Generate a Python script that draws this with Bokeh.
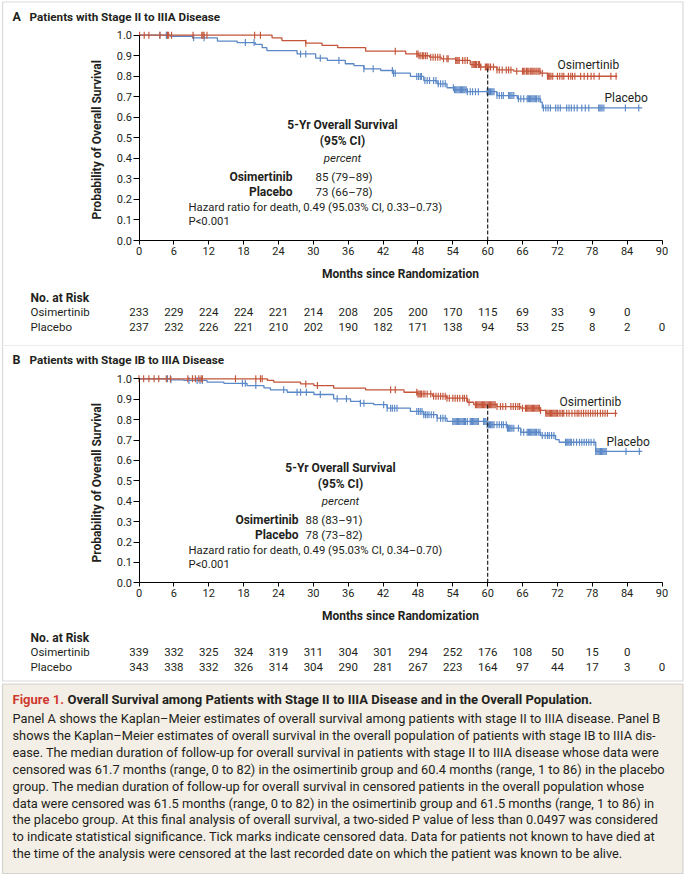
import numpy as np
from bokeh.plotting import figure
from bokeh.models import Range1d, Label, BoxAnnotation, FixedTicker, NumeralTickFormatter, LinearAxis
from bokeh.layouts import column
from bokeh.embed import file_html
from bokeh.resources import INLINE

FONT = "Roboto"
RED = "#C4553A"
BLUE = "#5B88C6"
INK = "#231F20"
EDGE = "#808080"
CAPTION_BG = "#F4EFE6"
FIG_RED = "#CF3A2F"

# ---------------- data ----------------
x_ticks = [0, 6, 12, 18, 24, 30, 36, 42, 48, 54, 60, 66, 72, 78, 84, 90]
y_ticks = [0.0, 0.1, 0.2, 0.3, 0.4, 0.5, 0.6, 0.7, 0.8, 0.9, 1.0]
risk_times_osi = [0, 6, 12, 18, 24, 30, 36, 42, 48, 54, 60, 66, 72, 78, 84]
risk_times_pbo = [0, 6, 12, 18, 24, 30, 36, 42, 48, 54, 60, 66, 72, 78, 84, 90]

# Panel A: stage II to IIIA
a_osi_t = [0, 22.9, 24.6, 28.7, 31.5, 34.2, 39.0, 45.9, 48.1, 50.0, 52.0, 54.5, 57.0, 58.8, 61.6, 64.5, 69.1, 70.3]
a_osi_s = [1.0, 0.987, 0.974, 0.961, 0.950, 0.939, 0.922, 0.909, 0.900, 0.893, 0.885, 0.877, 0.857, 0.845, 0.831, 0.825, 0.815, 0.800]
a_osi_end = 82.3
a_osi_cens = [0.1, 0.9, 1.7, 3.6, 4.9, 5.1, 5.6, 9.3, 10.8, 11.0, 11.2, 11.7, 19.9, 20.9, 28.7, 44.1,
              47.8, 48.0, 48.2, 48.5, 48.8, 49.0, 49.3, 49.6, 50.2, 50.6, 51.0, 51.4, 51.8, 52.4, 53.0, 53.2,
              54.5, 54.7, 54.9, 55.1, 55.7, 56.1, 56.5, 57.3, 57.5, 57.7, 57.9, 58.1, 58.4, 58.6, 58.8,
              59.6, 59.8, 60.0, 60.2, 60.5, 61.0, 61.6, 62.0, 62.5, 63.2, 63.6, 64.0, 65.0,
              66.0, 66.2, 66.4, 66.7, 66.9, 67.1, 67.4, 67.6, 67.8, 68.0, 68.3, 68.5, 68.8, 69.0, 69.4,
              70.3, 70.5, 70.7, 70.9, 71.2, 72.0, 72.4, 72.8, 73.1, 73.9, 74.3, 74.6, 75.0,
              76.0, 76.6, 77.2, 77.8, 78.3, 79.2, 81.2, 82.1]
a_pbo_t = [0, 5.4, 9.2, 13.5, 16.9, 20.0, 21.2, 22.0, 27.2, 30.4, 32.4, 35.5, 37.0, 38.7, 41.6, 43.8, 46.7,
           49.0, 51.3, 53.0, 54.2, 56.5, 61.6, 65.1, 69.1, 69.4]
a_pbo_s = [1.0, 0.995, 0.987, 0.971, 0.964, 0.955, 0.939, 0.925, 0.909, 0.888, 0.877, 0.861, 0.852, 0.836,
           0.828, 0.815, 0.799, 0.779, 0.763, 0.744, 0.734, 0.725, 0.706, 0.690, 0.674, 0.646]
a_pbo_end = 86.6
a_pbo_cens = [3.6, 4.7, 4.8, 9.4, 11.2, 18.3, 19.8, 27.8, 28.7, 31.2, 34.4, 38.7, 40.3, 43.6, 43.8, 44.1,
              47.8, 48.1, 48.4, 48.6, 49.2, 49.6, 50.0, 50.7, 51.1, 51.5, 51.9, 52.3, 52.7,
              54.1, 54.3, 54.5, 54.7, 54.9, 55.1, 55.3, 55.5, 55.7, 55.9, 56.1, 56.3, 56.5, 57.0, 57.4, 57.9, 58.4,
              59.9, 60.1, 60.3, 60.5, 60.7, 60.9, 61.1, 61.6, 62.0, 62.4, 62.7, 63.6, 63.8, 64.0, 64.2, 64.5,
              65.3, 65.7, 66.2, 66.8, 67.0, 67.2, 67.4, 67.6, 67.8, 68.0, 68.2, 68.4, 68.7, 69.0,
              69.6, 70.0, 70.4, 70.8, 71.7, 72.1, 72.5, 73.6, 74.0, 74.4, 74.9, 75.4, 76.2, 76.8, 77.4,
              79.1, 79.3, 79.5, 79.7, 80.0, 83.7, 86.0]
a_risk_osi = [233, 229, 224, 224, 221, 214, 208, 205, 200, 170, 115, 69, 33, 9, 0]
a_risk_pbo = [237, 232, 226, 221, 210, 202, 190, 182, 171, 138, 94, 53, 25, 8, 2, 0]

# Panel B: stage IB to IIIA (overall population)
b_osi_t = [0, 22.1, 23.2, 27.8, 30.1, 33.5, 39.0, 45.6, 47.9, 50.5, 53.0, 56.5, 57.6, 61.6, 65.7, 69.1, 70.0]
b_osi_s = [1.0, 0.992, 0.984, 0.975, 0.967, 0.954, 0.946, 0.934, 0.926, 0.915, 0.905, 0.885, 0.873, 0.864,
           0.856, 0.845, 0.831]
b_osi_end = 82.3
b_osi_cens = [0.0, 0.8, 1.7, 2.6, 3.4, 4.7, 5.4, 8.4, 9.2, 9.7, 10.3, 10.7, 10.9, 16.6, 20.1, 20.9, 21.2,
              28.7, 30.7, 43.3, 44.1,
              47.8, 48.0, 48.2, 48.4, 48.6, 48.9, 49.2, 49.6, 50.2, 50.7, 51.1, 51.5, 51.9, 52.3, 52.7, 53.0,
              53.4, 54.0, 54.4, 54.8, 55.2, 55.7, 56.0, 56.4, 56.8,
              57.9, 58.1, 58.3, 58.5, 58.7, 58.9, 59.1, 59.3, 59.5, 59.7, 59.9, 60.1, 60.3, 60.5, 60.7, 60.9,
              61.1, 61.3, 61.6, 62.2, 62.6, 63.1, 64.0, 64.4, 64.8, 65.2, 65.5, 66.0,
              66.5, 66.7, 66.9, 67.1, 67.3, 67.5, 67.7, 67.9, 68.1, 68.3, 68.5, 68.7, 68.9, 69.1,
              70.0, 70.2, 70.4, 70.6, 70.8, 71.0, 71.2, 71.4, 71.6, 71.8, 72.0, 72.3, 72.6, 72.9, 73.1,
              73.6, 74.0, 74.5, 75.0, 75.4, 75.7, 76.1, 76.5, 76.9, 77.3, 77.7, 78.1, 78.5, 78.9,
              79.4, 79.8, 80.2, 80.6, 82.0]
b_pbo_t = [0, 5.4, 7.7, 11.7, 14.6, 18.6, 21.5, 22.6, 25.5, 30.1, 33.5, 36.4, 38.1, 40.4, 42.7, 46.7, 49.0,
           51.3, 53.0, 59.9, 63.4, 65.7, 69.1, 71.7, 72.3, 78.6]
b_pbo_s = [1.0, 0.995, 0.992, 0.984, 0.978, 0.967, 0.956, 0.946, 0.934, 0.923, 0.902, 0.889, 0.880, 0.873,
           0.856, 0.840, 0.824, 0.807, 0.791, 0.775, 0.758, 0.738, 0.722, 0.702, 0.689, 0.644]
b_pbo_end = 86.6
b_pbo_cens = [4.9, 5.5, 8.6, 10.0, 10.5, 10.9, 17.8, 18.3, 20.1, 24.9, 27.2, 27.8, 28.8, 31.2, 34.1, 35.7,
              38.1, 38.7, 42.1, 42.7, 43.3, 43.6, 44.0, 44.4,
              47.8, 48.1, 48.4, 48.7, 49.0, 49.3, 49.6, 49.9, 50.3, 50.7, 51.3, 51.9, 52.3, 52.7,
              54.0, 54.2, 54.4, 54.6, 54.8, 55.0, 55.2, 55.4, 55.6, 55.8, 56.0, 56.2, 56.5,
              57.0, 57.2, 57.4, 57.6, 57.8, 58.0, 58.2, 58.4,
              59.3, 59.5, 59.7, 59.9, 60.1, 60.3, 60.5, 60.7, 60.9, 61.1, 61.6, 62.0, 62.4, 62.7,
              63.2, 63.4, 63.6, 63.8, 64.0, 64.2, 64.5,
              65.3, 65.7, 66.2, 66.8, 67.0, 67.2, 67.4, 67.6, 67.8, 68.0, 68.2, 68.4, 68.7, 69.0,
              69.4, 69.9, 70.3, 70.6, 71.0, 71.4,
              73.4, 73.6, 73.8, 74.0, 74.2, 74.4, 74.8, 75.3, 75.8, 76.2, 76.6, 77.0, 77.4, 77.8, 78.3,
              78.6, 78.8, 79.0, 79.2, 79.4, 79.6, 79.8, 80.0, 80.2, 80.4, 83.8, 86.1]
b_risk_osi = [339, 332, 325, 324, 319, 311, 304, 301, 294, 252, 176, 108, 50, 15, 0]
b_risk_pbo = [343, 338, 332, 326, 314, 304, 290, 281, 267, 223, 164, 97, 44, 17, 3, 0]

caption_title = "Overall Survival among Patients with Stage II to IIIA Disease and in the Overall Population."
caption_lines = [
    "Panel A shows the Kaplan\u2013Meier estimates of overall survival among patients with stage II to IIIA disease. Panel B",
    "shows the Kaplan\u2013Meier estimates of overall survival in the overall population of patients with stage IB to IIIA dis-",
    "ease. The median duration of follow-up for overall survival in patients with stage II to IIIA disease whose data were",
    "censored was 61.7 months (range, 0 to 82) in the osimertinib group and 60.4 months (range, 1 to 86) in the placebo",
    "group. The median duration of follow-up for overall survival in censored patients in the overall population whose",
    "data were censored was 61.5 months (range, 0 to 82) in the osimertinib group and 61.5 months (range, 1 to 86) in",
    "the placebo group. At this final analysis of overall survival, a two-sided P value of less than 0.0497 was considered",
    "to indicate statistical significance. Tick marks indicate censored data. Data for patients not known to have died at",
    "the time of the analysis were censored at the last recorded date on which the patient was known to be alive.",
]

# ---------------- layout constants (page pixels) ----------------
W = 686
X0_PX, X90_PX = 138.5, 661.5          # pixel columns of month 0 and month 90
PPM = (X90_PX - X0_PX) / 90.0          # pixels per month
BOX_L, BOX_R = 2.0, 682.5              # outer frame of the figure


def step_value(t_arr, s_arr, t):
    idx = np.searchsorted(np.asarray(t_arr, dtype=float), np.asarray(t, dtype=float), side="right") - 1
    return np.asarray(s_arr, dtype=float)[idx]


def make_panel(H, top_abs, y0_px, y1_px, letter, title, osi_t, osi_s, osi_end, osi_c, pbo_t, pbo_s, pbo_end,
               pbo_c, risk_osi, risk_pbo, osi_five, pbo_five, hr_text, pos, box_top, box_bottom):
    ppu = y0_px - y1_px

    def dx(px):
        return (px - X0_PX) / PPM

    def dy(py):
        return (y0_px - py) / ppu

    p = figure(width=W, height=H, x_range=Range1d(dx(0), dx(W)), y_range=Range1d(dy(top_abs + H), dy(top_abs)),
               output_backend="svg", toolbar_location=None, min_border=0,
               x_axis_type=None, y_axis_type=None)
    p.background_fill_color = "white"
    p.border_fill_color = "white"
    p.outline_line_color = None
    p.grid.visible = False

    def lab(text, px, py, size="11.5px", style="normal", align="left", color=INK, angle=0.0):
        p.add_layout(Label(x=dx(px), y=dy(py), text=text, text_font=FONT, text_font_size=size,
                           text_font_style=style, text_align=align, text_baseline="middle",
                           text_color=color, angle=angle))

    # axes at fixed data locations
    yax = LinearAxis(fixed_location=0, bounds=(0, 1), ticker=FixedTicker(ticks=y_ticks),
                     formatter=NumeralTickFormatter(format="0.0"))
    xax = LinearAxis(fixed_location=0, bounds=(0, 90), ticker=FixedTicker(ticks=x_ticks))
    for ax in (xax, yax):
        ax.axis_line_color = "black"
        ax.axis_line_width = 1
        ax.major_tick_line_color = "black"
        ax.major_tick_in = 0
        ax.minor_tick_line_color = None
        ax.major_label_text_font = FONT
        ax.major_label_text_font_size = "11px"
        ax.major_label_text_color = INK
    xax.major_tick_out = 4
    yax.major_tick_out = 6
    xax.major_label_standoff = 2
    yax.major_label_standoff = 1
    p.add_layout(yax, "left")
    p.add_layout(xax, "below")

    # axis titles
    lab("Probability of Overall Survival", 96, (y0_px + y1_px) / 2 + 2, size="12px", style="bold",
        align="center", angle=np.pi / 2)
    lab("Months since Randomization", (X0_PX + X90_PX) / 2, y0_px + 33, size="12px", style="bold",
        align="center")

    # curves + censor ticks
    for t, s, end, cens, col in ((pbo_t, pbo_s, pbo_end, pbo_c, BLUE), (osi_t, osi_s, osi_end, osi_c, RED)):
        xs = list(t) + [end]
        ys = list(s) + [s[-1]]
        p.step(xs, ys, mode="after", line_color=col, line_width=1.3)
        p.scatter(cens, step_value(t, s, cens), marker="dash", angle=np.pi / 2, size=7,
                  line_color=col, line_width=1.15)

    # dashed 5-year line
    five_val = float(step_value(osi_t, osi_s, [60])[0])
    p.segment(x0=[60], y0=[0], x1=[60], y1=[five_val], line_color=INK, line_width=1.2, line_dash="4 2")

    # panel border
    p.add_layout(BoxAnnotation(left=dx(BOX_L), right=dx(BOX_R), top=dy(box_top), bottom=dy(box_bottom),
                               fill_color=None, fill_alpha=0, line_color=EDGE, line_width=1.2))

    # panel title
    lab(letter, 12, pos["title_y"], size="12.5px", style="bold")
    lab(title, 29, pos["title_y"], size="11.7px", style="bold")

    # annotation block
    cx = pos["cx"]
    lab("5-Yr Overall Survival", cx, pos["y5"], size="12px", style="bold", align="center")
    lab("(95% CI)", cx, pos["y5"] + 16, size="12px", style="bold", align="center")
    lab("percent", cx, pos["y5"] + 33, size="11.5px", style="italic", align="center")
    lab("Osimertinib", pos["name_r"], pos["y_osi"], size="12px", style="bold", align="right")
    lab(osi_five, pos["val_l"], pos["y_osi"], size="11.5px")
    lab("Placebo", pos["name_r"], pos["y_osi"] + 15, size="12px", style="bold", align="right")
    lab(pbo_five, pos["val_l"], pos["y_osi"] + 15, size="11.5px")
    lab(hr_text, 188, pos["y_hr"], size="11.3px")
    lab("P<0.001", 188, pos["y_hr"] + 14, size="11.3px")

    # curve labels
    lab("Osimertinib", pos["osi_lab"][0], pos["osi_lab"][1], size="12px")
    lab("Placebo", pos["pbo_lab"][0], pos["pbo_lab"][1], size="12px")

    # number at risk table
    lab("No. at Risk", 30, pos["risk_y"], size="12px", style="bold")
    lab("Osimertinib", 30, pos["risk_y"] + 14.5, size="11.5px")
    lab("Placebo", 30, pos["risk_y"] + 29, size="11.5px")
    for tm, n in zip(risk_times_osi, risk_osi):
        p.add_layout(Label(x=tm, y=dy(pos["risk_y"] + 14.5), text=str(n), text_font=FONT,
                           text_font_size="11.5px", text_align="center", text_baseline="middle",
                           text_color=INK))
    for tm, n in zip(risk_times_pbo, risk_pbo):
        p.add_layout(Label(x=tm, y=dy(pos["risk_y"] + 29), text=str(n), text_font=FONT,
                           text_font_size="11.5px", text_align="center", text_baseline="middle",
                           text_color=INK))
    return p


posA = dict(title_y=16, cx=342, y5=124, name_r=292, val_l=315, y_osi=176, y_hr=207,
            osi_lab=(557, 64), pbo_lab=(604, 97), risk_y=297)
posB = dict(title_y=359, cx=340, y5=467, name_r=298, val_l=305, y_osi=519.5, y_hr=550,
            osi_lab=(559, 401), pbo_lab=(606, 441), risk_y=637)

pA = make_panel(346, 0, 240.0, 34.7, "A", "Patients with Stage II to IIIA Disease",
                a_osi_t, a_osi_s, a_osi_end, a_osi_cens, a_pbo_t, a_pbo_s, a_pbo_end, a_pbo_cens,
                a_risk_osi, a_risk_pbo, "85 (79\u201389)", "73 (66\u201378)",
                "Hazard ratio for death, 0.49 (95.03% CI, 0.33\u20130.73)", posA,
                box_top=1.5, box_bottom=345.5)
pB = make_panel(336, 346, 582.3, 378.3, "B", "Patients with Stage IB to IIIA Disease",
                b_osi_t, b_osi_s, b_osi_end, b_osi_cens, b_pbo_t, b_pbo_s, b_pbo_end, b_pbo_cens,
                b_risk_osi, b_risk_pbo, "88 (83\u201391)", "78 (73\u201382)",
                "Hazard ratio for death, 0.49 (95.03% CI, 0.34\u20130.70)", posB,
                box_top=340, box_bottom=680.5)

# ---------------- caption ----------------
CH = 192
pc = figure(width=W, height=CH, x_range=Range1d(0, W), y_range=Range1d(CH, 0),
            output_backend="svg", toolbar_location=None, min_border=0,
            x_axis_type=None, y_axis_type=None)
pc.grid.visible = False
pc.background_fill_color = "white"
pc.border_fill_color = "white"
pc.outline_line_color = None
pc.add_layout(BoxAnnotation(left=BOX_L, right=BOX_R, top=1.5, bottom=191, fill_color=CAPTION_BG,
                            fill_alpha=1, line_color=EDGE, line_width=1.2, level="underlay"))
pc.add_layout(Label(x=12, y=17, text="Figure 1.", text_font=FONT, text_font_size="13px",
                    text_font_style="bold", text_color=FIG_RED, text_baseline="middle"))
pc.add_layout(Label(x=67, y=17, text=caption_title, text_font=FONT, text_font_size="13px",
                    text_font_style="bold", text_color=INK, text_baseline="middle"))
for i, line in enumerate(caption_lines):
    pc.add_layout(Label(x=12, y=36 + 16.9 * i, text=line, text_font=FONT, text_font_size="12.8px",
                        text_color=INK, text_baseline="middle"))

layout = column(pA, pB, pc, spacing=0)
open("out.html", "w").write(file_html(layout, INLINE))
